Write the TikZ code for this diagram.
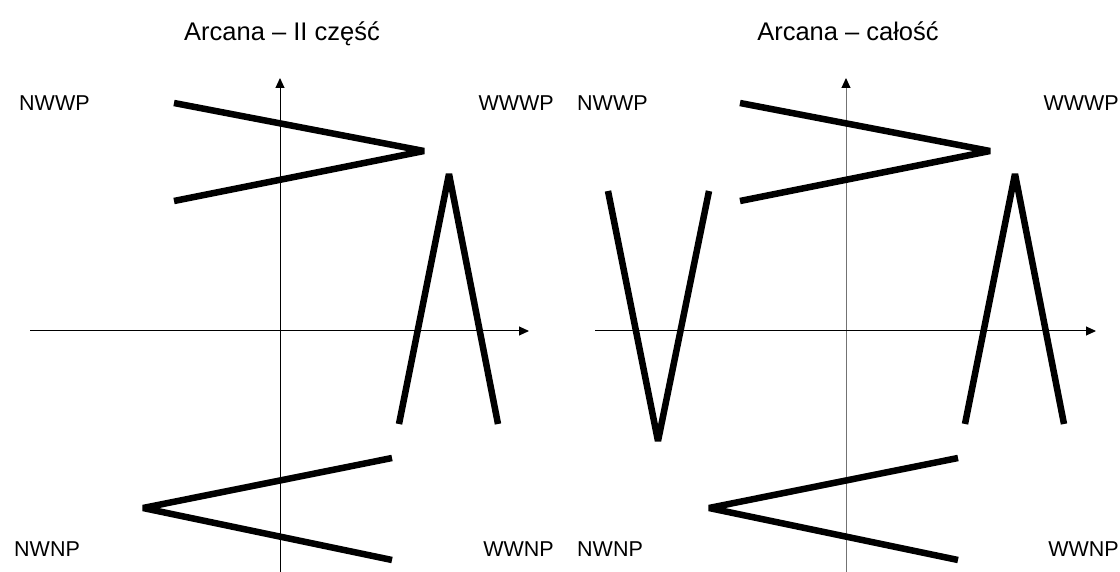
\documentclass[tikz,border=0pt]{standalone}
\usepackage{fontspec}
\setmainfont{Liberation Sans}
\usetikzlibrary{arrows.meta}
\begin{document}
\begin{tikzpicture}[x=1pt,y=-1pt,
  axis/.style={line width=1pt,-{Triangle[width=9pt,length=10pt,black]}},
  thickline/.style={line width=6.5pt,line join=bevel,line cap=butt},
  lab/.style={font=\fontsize{21.5}{25}\selectfont,inner sep=0pt},
  ttl/.style={font=\fontsize{25.5}{30}\selectfont,inner sep=0pt,anchor=base}]
\useasboundingbox[fill=white] (0,0) rectangle (1120,572);
% ---------- left panel ----------
\node[ttl] (t1) at (282,41) {Arcana – II część};
\coordinate (ly0) at (280,572); \coordinate (ly1) at (280,78);
\coordinate (lx0) at (30,331); \coordinate (lx1) at (529,331);
\draw[axis] (ly0) -- (ly1);
\draw[axis] (lx0) -- (lx1);
\node[lab,anchor=base west] (l1) at (19,111) {NWWP};
\node[lab,anchor=base east] (l2) at (554,111) {WWWP};
\node[lab,anchor=base west] (l3) at (14,556) {NWNP};
\node[lab,anchor=base east] (l4) at (554,556) {WWNP};
\coordinate (a1) at (174,103); \coordinate (a2) at (424,151); \coordinate (a3) at (174,201);
\draw[thickline] (a1) -- (a2) -- (a3);
\coordinate (b1) at (399,424); \coordinate (b2) at (449,174); \coordinate (b3) at (498,424);
\draw[thickline] (b1) -- (b2) -- (b3);
\coordinate (c1) at (392,458); \coordinate (c2) at (143,508); \coordinate (c3) at (392,560);
\draw[thickline] (c1) -- (c2) -- (c3);
% ---------- right panel ----------
\node[ttl] (t2) at (848,41) {Arcana – całość};
\coordinate (ry0) at (846,572); \coordinate (ry1) at (846,78);
\coordinate (rx0) at (595,331); \coordinate (rx1) at (1096,331);
\draw[axis,draw=black!55] (ry0) -- (ry1);
\draw[axis] (rx0) -- (rx1);
\node[lab,anchor=base west] (r1) at (577,111) {NWWP};
\node[lab,anchor=base east] (r2) at (1119,111) {WWWP};
\node[lab,anchor=base west] (r3) at (577,556) {NWNP};
\node[lab,anchor=base east] (r4) at (1119,556) {WWNP};
\coordinate (d1) at (740,103); \coordinate (d2) at (990,151); \coordinate (d3) at (740,201);
\draw[thickline] (d1) -- (d2) -- (d3);
\coordinate (e1) at (965,424); \coordinate (e2) at (1015,174); \coordinate (e3) at (1064,424);
\draw[thickline] (e1) -- (e2) -- (e3);
\coordinate (f1) at (958,458); \coordinate (f2) at (709,508); \coordinate (f3) at (958,560);
\draw[thickline] (f1) -- (f2) -- (f3);
\coordinate (g1) at (608,191); \coordinate (g2) at (658,441); \coordinate (g3) at (709,191);
\draw[thickline] (g1) -- (g2) -- (g3);
\end{tikzpicture}
\end{document}
